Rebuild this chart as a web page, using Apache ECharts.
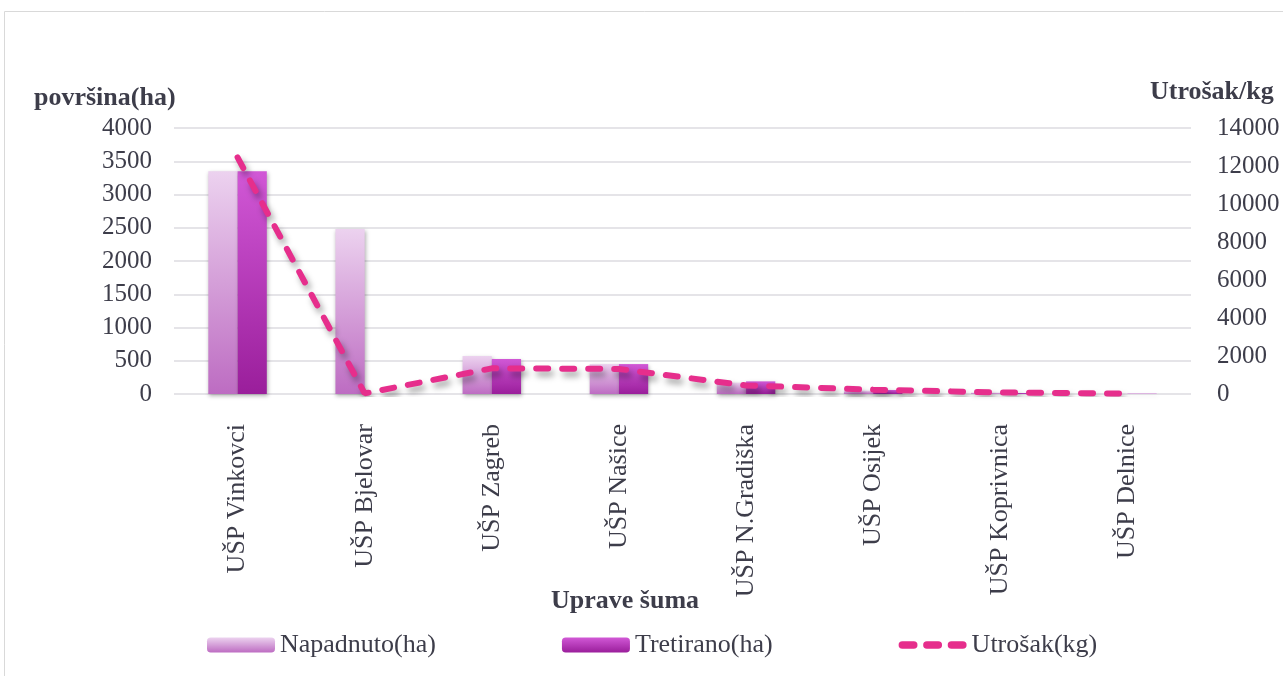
<!DOCTYPE html>
<html><head><meta charset="utf-8">
<script src="https://cdn.jsdelivr.net/npm/echarts@6/dist/echarts.min.js"></script>
<style>html,body{margin:0;padding:0;background:#fff}#c{width:1283px;height:676px}</style>
</head><body><div id="c"></div>
<script>
const categories = ['UŠP Vinkovci','UŠP Bjelovar','UŠP Zagreb','UŠP Našice','UŠP N.Gradiška','UŠP Osijek','UŠP Koprivnica','UŠP Delnice'];
const napadnuto = [3350, 2480, 570, 450, 170, 50, 20, 5];
const tretirano = [3350, 0, 525, 450, 190, 60, 15, 5];
const utrosak = [12450, 30, 1350, 1320, 450, 230, 80, 20];
const leftTicks = {min: 0, max: 4000, interval: 500};
const rightTicks = {min: 0, max: 14000, interval: 2000};

const txt = '#3d3d4a';
const font = '"Liberation Serif", "Times New Roman", serif';
const chart = echarts.init(document.getElementById('c'));
const grad = (a, b) => new echarts.graphic.LinearGradient(0, 0, 0, 1, [{offset: 0, color: a}, {offset: 1, color: b}]);
const dashIcon = 'path://M0 0L0.01 0L0.01 0.01Z M0 15L0.01 15L0.01 14.99Z ' +
  'M4 3.5L16 3.5A4 4 0 0 1 16 11.5L4 11.5A4 4 0 0 1 4 3.5Z ' +
  'M30 3.5L42 3.5A4 4 0 0 1 42 11.5L30 11.5A4 4 0 0 1 30 3.5Z ' +
  'M56 3.5L68 3.5A4 4 0 0 1 68 11.5L56 11.5A4 4 0 0 1 56 3.5Z M72 7.5L72.01 7.5L72.01 7.51Z';
chart.setOption({
  animation: false,
  textStyle: {fontFamily: font, color: txt},
  graphic: [
    {type: 'rect', shape: {x: 4.5, y: 11.5, width: 1300, height: 700}, style: {fill: 'none', stroke: '#d9d9d9', lineWidth: 1}},
    {type: 'text', left: 34, top: 85, style: {text: 'površina(ha)', font: 'bold 26px ' + font, fill: txt}},
    {type: 'text', left: 1150, top: 79, style: {text: 'Utrošak/kg', font: 'bold 26px ' + font, fill: txt}},
    {type: 'text', left: 551, top: 588, style: {text: 'Uprave šuma', font: 'bold 26px ' + font, fill: txt}}
  ],
  grid: {left: 174, right: 92, top: 128, bottom: 282},
  legend: {
    left: 202, top: 627, itemWidth: 68, itemHeight: 15, itemGap: 126,
    textStyle: {fontSize: 26, color: txt, fontFamily: font},
    data: ['Napadnuto(ha)', 'Tretirano(ha)', {name: 'Utrošak(kg)', icon: dashIcon, itemStyle: {color: '#e62e8c'}}]
  },
  xAxis: {
    type: 'category', data: categories,
    axisLine: {show: false}, axisTick: {show: false},
    axisLabel: {rotate: 90, fontSize: 26, color: txt, margin: 30, fontFamily: font}
  },
  yAxis: [
    {type: 'value', min: leftTicks.min, max: leftTicks.max, interval: leftTicks.interval,
     axisLabel: {fontSize: 25, color: txt, margin: 22, fontFamily: font, formatter: v => String(v)},
     splitLine: {lineStyle: {color: '#dcdbe0', width: 1.5}}},
    {type: 'value', min: rightTicks.min, max: rightTicks.max, interval: rightTicks.interval,
     axisLabel: {fontSize: 25, color: txt, margin: 26, fontFamily: font, formatter: v => String(v)},
     splitLine: {show: false}}
  ],
  series: [
    {name: 'Napadnuto(ha)', type: 'bar', data: napadnuto, barGap: '0%', barCategoryGap: '54%',
     itemStyle: {color: grad('#ecd2ef', '#bd6cc2'), shadowColor: 'rgba(0,0,0,0.3)', shadowBlur: 4, shadowOffsetX: 1, shadowOffsetY: 2}},
    {name: 'Tretirano(ha)', type: 'bar', data: tretirano,
     itemStyle: {color: grad('#d158d6', '#9a1e9b'), shadowColor: 'rgba(0,0,0,0.3)', shadowBlur: 4, shadowOffsetX: 1, shadowOffsetY: 2}},
    {name: 'Utrošak(kg)', type: 'line', yAxisIndex: 1, data: utrosak, symbol: 'none', showSymbol: false,
     itemStyle: {color: '#e62e8c'},
     lineStyle: {color: '#e62e8c', width: 6, type: [12, 14], cap: 'round',
       shadowColor: 'rgba(0,0,0,0.35)', shadowBlur: 6, shadowOffsetX: 3, shadowOffsetY: 5}}
  ]
});
</script></body></html>
